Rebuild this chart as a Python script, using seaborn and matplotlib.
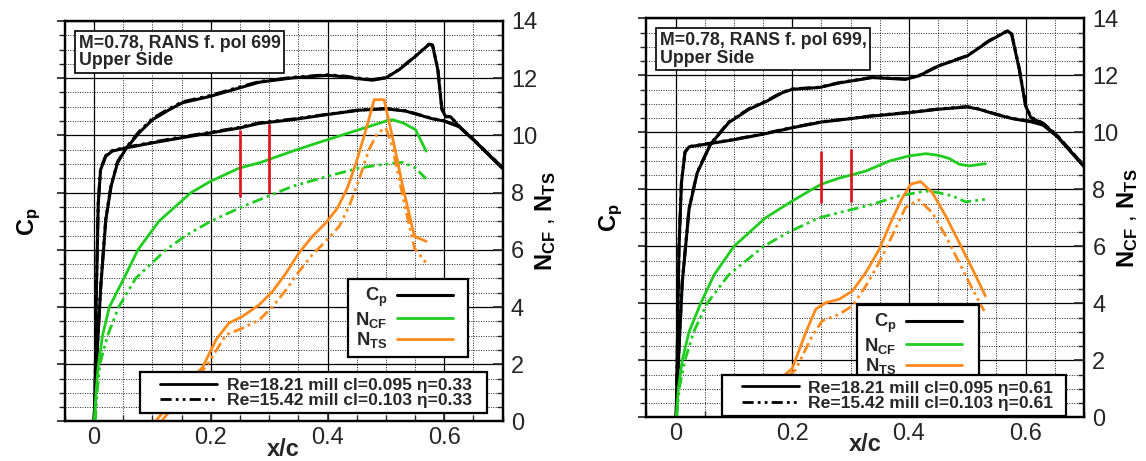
import matplotlib
matplotlib.use("Agg")
import matplotlib.pyplot as plt
import seaborn as sns
from matplotlib.lines import Line2D
from matplotlib.legend_handler import HandlerLine2D
from matplotlib.ticker import MultipleLocator, FuncFormatter

# ---------------------------------------------------------------- data
# Pressure distributions (upper side), eta = 0.33
CP_X_A33 = [0.0, 0.0017, 0.004, 0.007, 0.011, 0.02, 0.031, 0.054, 0.1, 0.151, 0.2, 0.249,
            0.283, 0.34, 0.4, 0.454, 0.5, 0.534, 0.58, 0.6, 0.626, 0.65, 0.7]
CP1_A33 = [1.2, 0.96, 0.26, -0.32, -0.56, -0.654, -0.69, -0.712, -0.748, -0.784, -0.818, -0.852,
           -0.884, -0.91, -0.946, -0.976, -0.986, -0.97, -0.916, -0.9, -0.86, -0.77, -0.57]
CP2_A33 = [1.2, 0.95, 0.25, -0.33, -0.565, -0.66, -0.694, -0.716, -0.752, -0.79, -0.822, -0.856,
           -0.888, -0.914, -0.948, -0.978, -0.988, -0.972, -0.918, -0.902, -0.862, -0.772, -0.575]
CP_X_B33 = [0.0, 0.004, 0.0114, 0.02, 0.029, 0.04, 0.054, 0.077, 0.1, 0.129, 0.151, 0.2, 0.249,
            0.283, 0.34, 0.4, 0.43, 0.454, 0.477, 0.5, 0.523, 0.551, 0.574, 0.58, 0.589, 0.596,
            0.603, 0.611, 0.626, 0.65, 0.7]
CP1_B33 = [1.2, 0.8, 0.256, -0.21, -0.444, -0.608, -0.704, -0.818, -0.91, -0.98, -1.028, -1.074,
           -1.132, -1.172, -1.202, -1.22, -1.21, -1.196, -1.186, -1.202, -1.26, -1.354, -1.436,
           -1.43, -1.26, -0.98, -0.93, -0.93, -0.86, -0.77, -0.57]
CP2_B33 = [1.2, 0.79, 0.245, -0.22, -0.45, -0.614, -0.71, -0.826, -0.918, -0.988, -1.034, -1.08,
           -1.138, -1.176, -1.206, -1.224, -1.214, -1.2, -1.19, -1.204, -1.262, -1.356, -1.438,
           -1.432, -1.27, -0.99, -0.934, -0.932, -0.862, -0.772, -0.575]

# N-factors, eta = 0.33
NCF_X1_33 = [0.0, 0.004, 0.0074, 0.0143, 0.026, 0.051, 0.075, 0.111, 0.166, 0.2, 0.249, 0.283,
             0.34, 0.374, 0.4, 0.454, 0.5, 0.511, 0.529, 0.551, 0.569]
NCF1_33 = [0.0, 1.22, 2.0, 3.0, 4.0, 5.0, 6.0, 7.0, 8.0, 8.4, 8.86, 9.04,
           9.45, 9.68, 9.85, 10.2, 10.5, 10.55, 10.44, 10.2, 9.45]
NCF_X2_33 = [0.002, 0.005, 0.0097, 0.023, 0.042, 0.071, 0.123, 0.157, 0.2, 0.253, 0.283, 0.34,
             0.4, 0.454, 0.5, 0.529, 0.551, 0.569]
NCF2_33 = [0.0, 1.0, 2.0, 3.0, 4.0, 5.0, 6.0, 6.5, 7.0, 7.5, 7.75, 8.22,
           8.57, 8.86, 9.0, 9.06, 8.86, 8.48]
NTS_X1_33 = [0.105, 0.145, 0.186, 0.209, 0.231, 0.254, 0.283, 0.306, 0.329, 0.351, 0.374, 0.397,
             0.417, 0.434, 0.449, 0.466, 0.48, 0.497, 0.511, 0.529, 0.549, 0.569]
NTS1_33 = [0.0, 1.0, 1.9, 2.86, 3.44, 3.67, 4.08, 4.55, 5.19, 5.89, 6.47, 6.94,
           7.46, 8.16, 9.04, 10.2, 11.25, 11.25, 9.97, 8.22, 6.47, 6.3]
NTS_X2_33 = [0.115, 0.155, 0.194, 0.226, 0.254, 0.283, 0.306, 0.329, 0.351, 0.374, 0.397, 0.42,
             0.437, 0.454, 0.471, 0.486, 0.5, 0.511, 0.529, 0.549, 0.569]
NTS2_33 = [0.0, 1.0, 1.98, 3.03, 3.26, 3.55, 4.02, 4.6, 5.24, 5.83, 6.3, 6.82,
           7.52, 8.45, 9.5, 10.09, 10.26, 9.62, 7.87, 6.06, 5.54]

# Pressure distributions (upper side), eta = 0.61
CP_X_A61 = [0.001, 0.003, 0.0057, 0.01, 0.016, 0.023, 0.051, 0.097, 0.149, 0.2, 0.25, 0.28,
            0.337, 0.4, 0.451, 0.5, 0.52, 0.549, 0.577, 0.611, 0.63, 0.654, 0.7]
CP1_A61 = [1.2, 0.7, 0.02, -0.446, -0.658, -0.698, -0.716, -0.746, -0.786, -0.832, -0.872, -0.886,
           -0.914, -0.938, -0.962, -0.978, -0.962, -0.926, -0.896, -0.872, -0.85, -0.77, -0.56]
CP2_A61 = [1.2, 0.69, 0.01, -0.45, -0.662, -0.7, -0.718, -0.748, -0.788, -0.834, -0.874, -0.888,
           -0.916, -0.94, -0.964, -0.98, -0.964, -0.928, -0.898, -0.876, -0.856, -0.776, -0.565]
CP_X_B61 = [0.001, 0.006, 0.0114, 0.023, 0.037, 0.06, 0.091, 0.126, 0.157, 0.183, 0.2, 0.246,
            0.28, 0.337, 0.394, 0.417, 0.451, 0.5, 0.537, 0.569, 0.576, 0.589, 0.6, 0.609,
            0.63, 0.654, 0.7]
CP1_B61 = [1.2, 0.7, 0.254, -0.26, -0.516, -0.716, -0.868, -0.962, -1.02, -1.078, -1.102, -1.114,
           -1.146, -1.184, -1.172, -1.196, -1.266, -1.336, -1.44, -1.512, -1.488, -1.242, -0.984,
           -0.902, -0.86, -0.774, -0.56]
CP2_B61 = [1.2, 0.69, 0.245, -0.265, -0.52, -0.72, -0.872, -0.966, -1.024, -1.082, -1.104, -1.116,
           -1.148, -1.186, -1.174, -1.198, -1.268, -1.338, -1.442, -1.514, -1.49, -1.25, -0.99,
           -0.906, -0.864, -0.778, -0.565]

# N-factors, eta = 0.61
NCF_X1_61 = [0.001, 0.0046, 0.0114, 0.023, 0.043, 0.066, 0.1, 0.154, 0.2, 0.234, 0.25, 0.28,
             0.326, 0.366, 0.4, 0.429, 0.451, 0.469, 0.486, 0.503, 0.531]
NCF1_61 = [0.0, 1.0, 2.0, 3.0, 4.0, 5.0, 6.0, 7.0, 7.59, 8.0, 8.18, 8.39,
           8.64, 8.99, 9.17, 9.25, 9.19, 9.08, 8.88, 8.82, 8.9]
NCF_X2_61 = [0.002, 0.006, 0.016, 0.031, 0.054, 0.091, 0.151, 0.194, 0.246, 0.28, 0.337, 0.383,
             0.429, 0.451, 0.474, 0.497, 0.531]
NCF2_61 = [0.0, 1.0, 2.0, 3.0, 4.0, 5.0, 6.0, 6.5, 7.0, 7.18, 7.47, 7.77,
           7.94, 7.88, 7.77, 7.56, 7.65]
NTS_X1_61 = [0.11, 0.155, 0.2, 0.223, 0.24, 0.257, 0.28, 0.303, 0.326, 0.349, 0.371, 0.389,
             0.403, 0.42, 0.44, 0.463, 0.486, 0.509, 0.531]
NTS1_61 = [0.0, 0.9, 1.72, 2.97, 3.79, 4.02, 4.14, 4.43, 5.08, 5.89, 6.95, 7.71,
           8.18, 8.27, 7.88, 7.06, 6.13, 5.19, 4.26]
NTS_X2_61 = [0.12, 0.165, 0.206, 0.234, 0.251, 0.28, 0.303, 0.326, 0.349, 0.371, 0.394, 0.417,
             0.44, 0.463, 0.486, 0.509, 0.529]
NTS2_61 = [0.0, 0.9, 1.68, 2.85, 3.38, 3.61, 3.91, 4.61, 5.43, 6.36, 7.36, 7.63,
           7.18, 6.36, 5.43, 4.49, 3.73]

# Transition markers (x/c and N range)
TR_X = [0.25, 0.30]
TR_LO_33 = [7.85, 8.0]
TR_HI_33 = [10.2, 10.4]
TR_LO_61 = [7.51, 7.56]
TR_HI_61 = [9.34, 9.40]

TITLE_33 = "M=0.78, RANS f. pol 699\nUpper Side"
TITLE_61 = "M=0.78, RANS f. pol 699,\nUpper Side"
RE_LABELS_33 = ["Re=18.21 mill cl=0.095 \u03b7=0.33", "Re=15.42 mill cl=0.103 \u03b7=0.33"]
RE_LABELS_61 = ["Re=18.21 mill cl=0.095 \u03b7=0.61", "Re=15.42 mill cl=0.103 \u03b7=0.61"]
QTY_LABELS = [r"$\mathbf{C_p}$", r"$\mathbf{N_{CF}}$", r"$\mathbf{N_{TS}}$"]
X_TICKS = [0.0, 0.2, 0.4, 0.6]

# ---------------------------------------------------------------- style
sns.set_theme(style="white")
plt.rcParams["font.family"] = ["Liberation Sans", "DejaVu Sans"]
plt.rcParams["mathtext.fontset"] = "custom"
plt.rcParams["mathtext.rm"] = "Liberation Sans"
plt.rcParams["mathtext.bf"] = "Liberation Sans:bold"
plt.rcParams["mathtext.it"] = "Liberation Sans:italic"

BLACK = "#000000"
GREEN = "#1fcc1f"
ORANGE = "#ff8a1c"
RED = "#dd1a22"
SOLID = "-"
DASH2DOT = (0, (4, 1.5, 1, 1.5, 1, 1.5))

fig = plt.figure(figsize=(11.46, 4.61), dpi=100)


def curve(ax, xs, ys, color, ls, lw=2.0):
    sns.lineplot(x=xs, y=ys, ax=ax, color=color, linestyle=ls, linewidth=lw,
                 sort=False, estimator=None, legend=False)


def panel(rect, cps, ncfs, ntss, tr_lo, tr_hi, title):
    ax_cp = fig.add_axes(rect)
    ax_cp.set_xlim(-0.05, 0.7)
    ax_cp.set_ylim(1.2, -1.6)
    ax_cp.xaxis.set_major_locator(MultipleLocator(0.2))
    ax_cp.xaxis.set_minor_locator(MultipleLocator(0.05))
    ax_cp.yaxis.set_major_locator(MultipleLocator(0.4))
    ax_cp.yaxis.set_minor_locator(MultipleLocator(0.1))
    ax_cp.set_xticks(X_TICKS)
    ax_cp.xaxis.set_major_formatter(FuncFormatter(lambda v, p: "0" if abs(v) < 1e-9 else f"{v:.1f}"))
    ax_cp.set_axisbelow(True)
    ax_cp.grid(which="major", color="black", linewidth=0.9, linestyle="-")
    ax_cp.grid(which="minor", color="#222222", linewidth=0.7, linestyle=(0, (1, 1.5)))
    ax_cp.tick_params(axis="y", which="both", left=False, labelleft=False)
    ax_cp.tick_params(axis="x", which="major", direction="in", length=7, width=1.2,
                      labelsize=17, pad=4, bottom=True)
    ax_cp.tick_params(axis="x", which="minor", direction="in", length=4, width=1.0, bottom=True)

    for xs, ys, ls in cps:
        curve(ax_cp, xs, ys, BLACK, ls, lw=2.2)

    ax_n = ax_cp.twinx()
    ax_n.set_ylim(0, 14)
    ax_n.yaxis.set_major_locator(MultipleLocator(2))
    ax_n.yaxis.set_minor_locator(MultipleLocator(0.5))
    ax_n.grid(False)
    ax_n.tick_params(axis="y", which="major", direction="in", length=7, width=1.2,
                     labelsize=17, pad=6, right=True)
    ax_n.tick_params(axis="y", which="minor", direction="in", length=4, width=1.0, right=True)

    for xs, ys, ls in ncfs:
        curve(ax_n, xs, ys, GREEN, ls)
    for xs, ys, ls in ntss:
        curve(ax_n, xs, ys, ORANGE, ls)
    ax_n.vlines(TR_X, tr_lo, tr_hi, colors=RED, linewidth=2.0)

    for a in (ax_cp, ax_n):
        for s in a.spines.values():
            s.set_linewidth(1.6)
            s.set_color("black")

    # axis labels
    ax_cp.set_xlabel("x/c", fontsize=17, fontweight="bold")
    ax_cp.xaxis.set_label_coords(0.5, -0.04)
    ax_cp.xaxis.label.set_va("top")
    ax_cp.set_ylabel("")
    ax_n.set_ylabel("")
    ax_cp.text(-0.05, 0.5, r"$\mathbf{C_p}$", transform=ax_cp.transAxes, rotation=90,
               ha="right", va="center", fontsize=17, color="black")
    ax_n.text(1.07, 0.5, r"$\mathbf{N_{CF}}$ , $\mathbf{N_{TS}}$", transform=ax_n.transAxes,
              rotation=90, ha="left", va="center", fontsize=17, color="black")

    # annotation box
    ax_n.text(0.031, 0.966, title, transform=ax_n.transAxes, ha="left", va="top",
              fontsize=12.8, fontweight="bold", linespacing=1.05, zorder=10,
              bbox=dict(boxstyle="square,pad=0.2", fc="white", ec="black", lw=1.2))

    qh = [Line2D([], [], color=BLACK, lw=2.2), Line2D([], [], color=GREEN, lw=2.0),
          Line2D([], [], color=ORANGE, lw=2.0)]
    return ax_cp, ax_n, qh


def legends(ax_n, qh, q_box, re_box, re_labels):
    leg1 = ax_n.legend(qh, QTY_LABELS, loc="upper left", bbox_to_anchor=q_box, mode="expand",
                       bbox_transform=ax_n.transAxes, borderaxespad=0, markerfirst=False,
                       frameon=True, fancybox=False, framealpha=1, edgecolor="black",
                       prop={"weight": "bold", "size": 13.2}, handlelength=3.1,
                       handletextpad=0.5, labelspacing=0.02, borderpad=0.38)
    leg1.get_frame().set_linewidth(1.6)
    leg1.set_zorder(20)
    ax_n.add_artist(leg1)

    rh = [Line2D([], [], color=BLACK, lw=2.0, linestyle=SOLID),
          Line2D([], [], color=BLACK, lw=2.0, linestyle=DASH2DOT)]
    leg2 = ax_n.legend(rh, re_labels, loc="upper left", bbox_to_anchor=re_box, mode="expand",
                       bbox_transform=ax_n.transAxes, borderaxespad=0,
                       frameon=True, fancybox=False, framealpha=1, edgecolor="black",
                       prop={"weight": "bold", "size": 12.6}, handlelength=4.1,
                       handletextpad=0.55, labelspacing=0.0, borderpad=0.3,
                       handler_map={Line2D: HandlerLine2D(xpad=0.85)})
    leg2.get_frame().set_linewidth(1.6)
    leg2.set_zorder(20)


# left panel: eta = 0.33
ax_cp1, ax_n1, qh1 = panel(
    [0.0567, 0.0857, 0.3818, 0.8688],
    [(CP_X_A33, CP1_A33, SOLID), (CP_X_A33, CP2_A33, DASH2DOT),
     (CP_X_B33, CP1_B33, SOLID), (CP_X_B33, CP2_B33, DASH2DOT)],
    [(NCF_X1_33, NCF1_33, SOLID), (NCF_X2_33, NCF2_33, DASH2DOT)],
    [(NTS_X1_33, NTS1_33, SOLID), (NTS_X2_33, NTS2_33, DASH2DOT)],
    TR_LO_33, TR_HI_33, TITLE_33)
legends(ax_n1, qh1, (0.6475, 0.195, 0.2743, 0.16), (0.1714, 0.012, 0.7926, 0.1108), RE_LABELS_33)

# right panel: eta = 0.61
ax_cp2, ax_n2, qh2 = panel(
    [0.5641, 0.0948, 0.3818, 0.8655],
    [(CP_X_A61, CP1_A61, SOLID), (CP_X_A61, CP2_A61, DASH2DOT),
     (CP_X_B61, CP1_B61, SOLID), (CP_X_B61, CP2_B61, DASH2DOT)],
    [(NCF_X1_61, NCF1_61, SOLID), (NCF_X2_61, NCF2_61, DASH2DOT)],
    [(NTS_X1_61, NTS1_61, SOLID), (NTS_X2_61, NTS2_61, DASH2DOT)],
    TR_LO_61, TR_HI_61, TITLE_61)
legends(ax_n2, qh2, (0.482, 0.1185, 0.277, 0.1625), (0.172, 0.01, 0.788, 0.096), RE_LABELS_61)

fig.savefig("out.png", dpi=100, facecolor="white")
